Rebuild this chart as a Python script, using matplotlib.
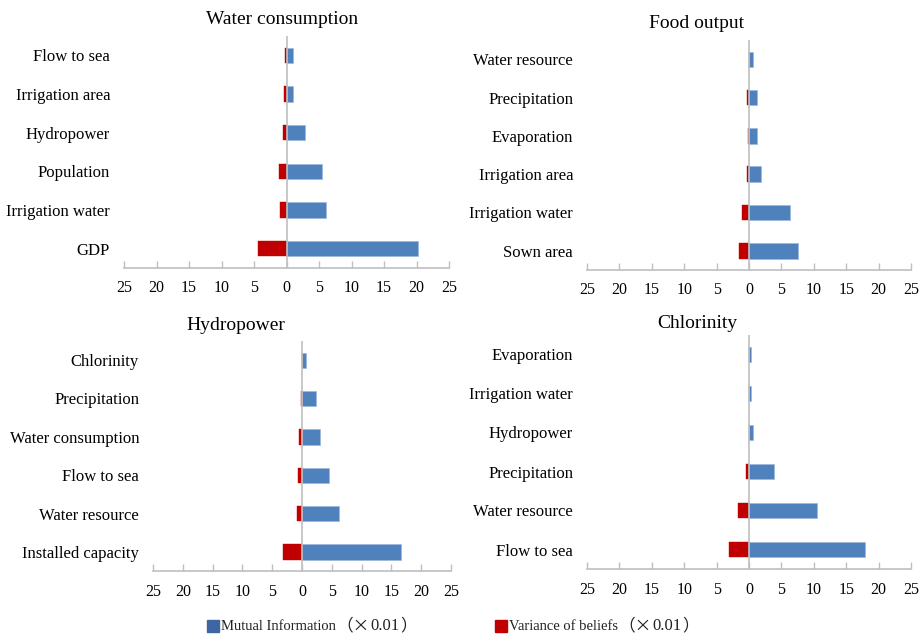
import matplotlib
matplotlib.use("Agg")
import matplotlib.pyplot as plt
from matplotlib.patches import Rectangle
from matplotlib.ticker import FuncFormatter

plt.rcParams['font.family'] = ['Liberation Serif', 'Noto Sans CJK SC', 'DejaVu Sans']

# ---- data (bottom to top) ----
wc_labels = ["GDP", "Irrigation water", "Population", "Hydropower", "Irrigation area", "Flow to sea"]
wc_mi = [20.2, 6.0, 5.5, 2.9, 1.05, 0.95]
wc_var = [4.45, 0.95, 1.2, 0.55, 0.35, 0.2]

fo_labels = ["Sown area", "Irrigation water", "Irrigation area", "Evaporation", "Precipitation", "Water resource"]
fo_mi = [7.5, 6.3, 1.8, 1.2, 1.2, 0.65]
fo_var = [1.5, 1.1, 0.35, 0.15, 0.25, 0.05]

hp_labels = ["Installed capacity", "Water resource", "Flow to sea", "Water consumption", "Precipitation", "Chlorinity"]
hp_mi = [16.6, 6.2, 4.5, 3.0, 2.3, 0.75]
hp_var = [3.25, 0.9, 0.7, 0.45, 0.22, 0.05]

ch_labels = ["Flow to sea", "Water resource", "Precipitation", "Hydropower", "Irrigation water", "Evaporation"]
ch_mi = [17.9, 10.5, 3.8, 0.65, 0.25, 0.25]
ch_var = [3.1, 1.75, 0.5, 0.05, 0.02, 0.02]

xticks = [-25, -20, -15, -10, -5, 0, 5, 10, 15, 20, 25]

legend_names = ["Mutual Information", "Variance of beliefs"]
legend_unit = "0.01"

BLUE = "#4F81BD"
RED = "#C00000"
LEG_BLUE = "#3D66A3"

W, H = 924, 637
fig = plt.figure(figsize=(W / 100, H / 100), dpi=100)


def add_panel(left, right, top, bottom, labels, mi, var, title, tx, ty):
    ax = fig.add_axes([left / W, 1 - bottom / H, (right - left) / W, (bottom - top) / H])
    y = list(range(len(labels)))
    ax.barh(y, mi, height=0.4, color=BLUE, edgecolor="#9DB9DE", linewidth=0.5, zorder=2)
    ax.barh(y, [-v for v in var], height=0.4, color=RED, edgecolor=RED, linewidth=0.3, zorder=2)
    ax.axvline(0, color="#BFBFBF", linewidth=1.2, zorder=3)
    ax.set_xlim(-25, 25)
    ax.set_ylim(-0.5, len(labels) - 0.5)
    ax.set_xticks(xticks)
    ax.xaxis.set_major_formatter(FuncFormatter(lambda v, p: f"{abs(int(v))}"))
    ax.set_yticks(y)
    ax.set_yticklabels(labels, fontsize=12)
    for s in ["top", "right", "left"]:
        ax.spines[s].set_visible(False)
    ax.spines["bottom"].set_color("#BFBFBF")
    ax.spines["bottom"].set_linewidth(1.2)
    ax.tick_params(axis="x", direction="in", length=5, color="#BFBFBF", width=1,
                   labelsize=11.5, pad=9)
    ax.tick_params(axis="y", length=0, pad=10)
    fig.text(tx / W, 1 - ty / H, title, fontsize=14, ha="center", va="center")
    return ax


add_panel(124, 449, 36, 268, wc_labels, wc_mi, wc_var, "Water consumption", 282, 20)
add_panel(587, 911, 40, 270, fo_labels, fo_mi, fo_var, "Food output", 697, 23)
add_panel(153, 451, 341, 571, hp_labels, hp_mi, hp_var, "Hydropower", 236, 325)
add_panel(587, 911, 335, 569, ch_labels, ch_mi, ch_var, "Chlorinity", 697, 323)

# ---- legend built from pieces (serif words, CJK full-width brackets and times sign) ----
renderer = fig.canvas.get_renderer()
SERIF = ['Liberation Serif']
CJK = ['Noto Sans CJK SC']
LY = 626


def legend_item(x0, color, name):
    fig.patches.append(Rectangle((x0 / W, 1 - (LY + 6) / H), 12 / W, 12 / H,
                                 transform=fig.transFigure, facecolor=color,
                                 edgecolor=color, figure=fig))
    x = x0 + 14
    pieces = [(name, SERIF, 10.5, 0), ("（×", CJK, 12, 1),
              (legend_unit, SERIF, 12, 1), ("）", CJK, 12, 0)]
    for txt, fam, fs, gap in pieces:
        t = fig.text(x / W, 1 - LY / H, txt, family=fam, fontsize=fs,
                     ha="left", va="center", color="#222222")
        bb = t.get_window_extent(renderer)
        x += bb.width + gap


legend_item(207, LEG_BLUE, legend_names[0])
legend_item(495, RED, legend_names[1])

fig.savefig("out.png", dpi=100)
